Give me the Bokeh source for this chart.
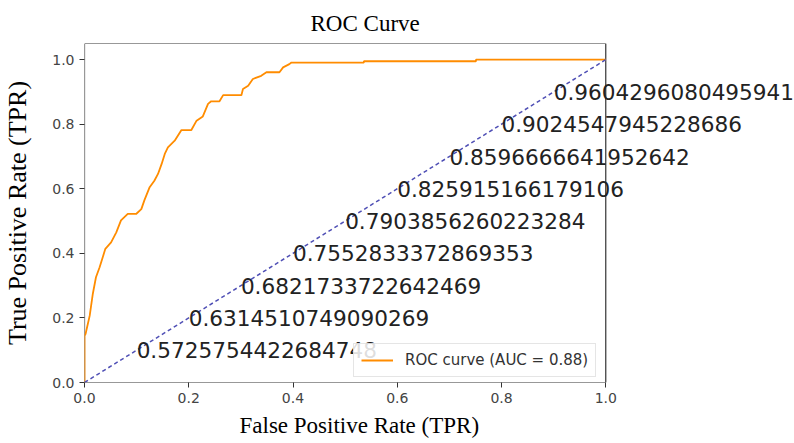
from bokeh.plotting import figure
from bokeh.models import (Range1d, FixedTicker, Label, Legend, LegendItem, Title)
from bokeh.embed import file_html
from bokeh.resources import INLINE

# ---- data ----
fpr = [0.0, 0.0, 0.002, 0.010, 0.016, 0.022, 0.029, 0.035, 0.040, 0.051,
       0.061, 0.070, 0.083, 0.099, 0.109, 0.115, 0.125, 0.134, 0.141, 0.148,
       0.154, 0.160, 0.173, 0.186, 0.205, 0.215, 0.227, 0.237, 0.243, 0.259,
       0.266, 0.301, 0.304, 0.314, 0.323, 0.339, 0.349, 0.374, 0.381, 0.393,
       0.397, 0.536, 0.536, 0.751, 0.751, 1.0]
tpr = [0.0, 0.145, 0.150, 0.207, 0.275, 0.326, 0.357, 0.388, 0.414, 0.434,
       0.465, 0.502, 0.522, 0.522, 0.537, 0.565, 0.605, 0.625, 0.646, 0.677,
       0.708, 0.728, 0.749, 0.782, 0.782, 0.811, 0.824, 0.863, 0.871, 0.871,
       0.890, 0.890, 0.909, 0.919, 0.940, 0.950, 0.961, 0.961, 0.976, 0.986,
       0.991, 0.991, 0.995, 0.995, 1.0, 1.0]

diag_x = [0.0, 1.0]
diag_y = [0.0, 1.0]

label_pos = [0.1, 0.2, 0.3, 0.4, 0.5, 0.6, 0.7, 0.8, 0.9]
thresholds = ["0.5725754422684748", "0.6314510749090269", "0.6821733722642469",
              "0.7552833372869353", "0.7903856260223284", "0.825915166179106",
              "0.8596666641952642", "0.9024547945228686", "0.9604296080495941"]

ticks = [0.0, 0.2, 0.4, 0.6, 0.8, 1.0]
tick_labels = ["0.0", "0.2", "0.4", "0.6", "0.8", "1.0"]

auc_text = "ROC curve (AUC = 0.88)"

# axes box limits (data space) and the extra room on the right for the labels
X_MIN, X_MAX = 0.0, 1.0
Y_MIN, Y_MAX = 0.0, 1.05
LEFT, RIGHT_EDGE, AXES_RIGHT = 83, 794, 605
x_view_max = X_MAX * (RIGHT_EDGE - LEFT) / (AXES_RIGHT - LEFT)

# ---- figure ----
p = figure(width=794, height=443, output_backend="svg", toolbar_location=None,
           x_range=Range1d(X_MIN, x_view_max), y_range=Range1d(Y_MIN, Y_MAX),
           min_border_left=LEFT, min_border_right=0,
           min_border_top=43, min_border_bottom=61)

p.title.text = "ROC Curve"
p.title.text_font = "Liberation Serif"
p.title.text_font_size = "23px"
p.title.text_font_style = "normal"
p.title.text_color = "black"
p.title.align = "left"
p.title.offset = 226
p.title.standoff = 16

p.grid.visible = False
p.outline_line_color = None
p.background_fill_color = "white"
p.border_fill_color = "white"

for ax in (p.xaxis[0], p.yaxis[0]):
    ax.ticker = FixedTicker(ticks=ticks)
    ax.major_label_overrides = {t: l for t, l in zip(ticks, tick_labels)}
    ax.major_tick_out = 5
    ax.major_tick_in = 0
    ax.minor_tick_out = 0
    ax.minor_tick_in = 0
    ax.axis_line_color = None
    ax.major_tick_line_color = "#333333"
    ax.major_label_text_font = "DejaVu Sans"
    ax.major_label_text_font_size = "14px"
    ax.major_label_text_color = "#444444"
    ax.axis_label_text_font = "Liberation Serif"
    ax.axis_label_text_font_style = "normal"
    ax.axis_label_text_color = "black"

# x-axis label: placed under the axes box (not the widened frame)
p.add_layout(Title(text="False Positive Rate (TPR)", align="left", offset=155,
                   text_font="Liberation Serif", text_font_size="23px",
                   text_font_style="normal", text_color="black",
                   text_line_height=1.0, standoff=11), "below")

p.yaxis.axis_label = "True Positive Rate (TPR)"
p.yaxis.axis_label_text_font_size = "26px"
p.yaxis.axis_label_standoff = 17

# axes box
p.quad(left=X_MIN, right=X_MAX, bottom=Y_MIN, top=Y_MAX,
       fill_color=None, line_color="#333333", line_width=1.2)

roc = p.line(fpr, tpr, line_color="#ff8c00", line_width=1.8)
p.line(diag_x, diag_y, line_color="#4f4fb5", line_width=1.5, line_dash="4 3")

for pos, t in zip(label_pos, thresholds):
    p.add_layout(Label(x=pos, y=pos, text=t,
                       text_font="DejaVu Sans", text_font_size="21.6px",
                       text_color="#222222", text_align="left",
                       text_baseline="alphabetic"))

legend = Legend(items=[LegendItem(label=auc_text, renderers=[roc])],
                location=(269, 5), margin=0, padding=7, spacing=0,
                glyph_width=32, glyph_height=18, label_standoff=12,
                label_text_font="DejaVu Sans", label_text_font_size="15px",
                label_text_color="#333333", label_height=18,
                border_line_color="#cccccc", border_line_width=1,
                background_fill_alpha=0.85, level="overlay")
p.add_layout(legend)

open("out.html", "w").write(file_html(p, INLINE))
